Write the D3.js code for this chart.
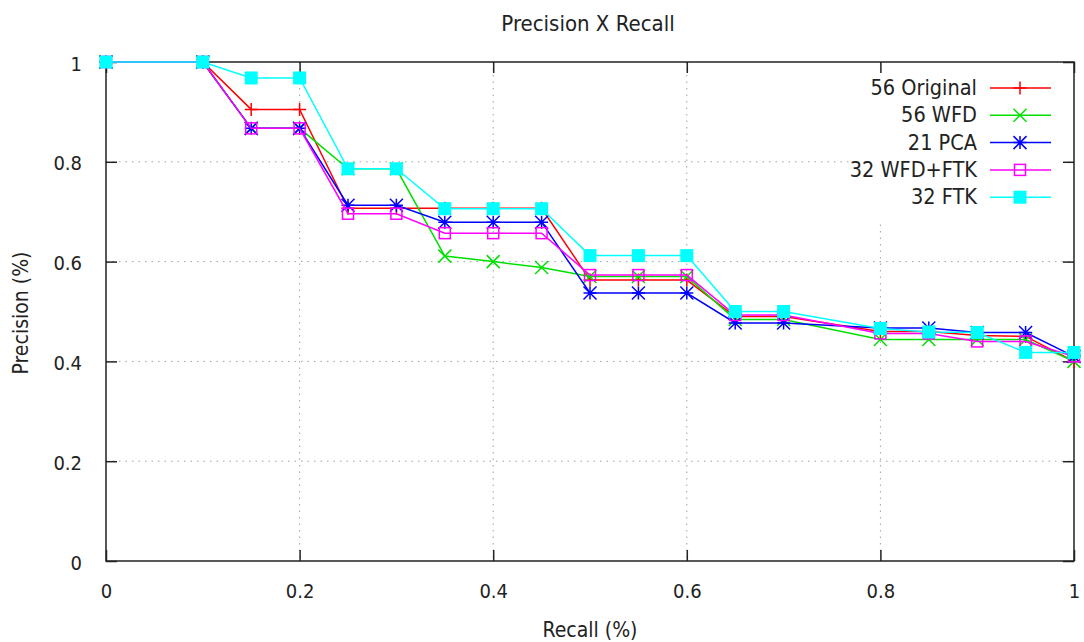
<!DOCTYPE html>
<html>
<head>
<meta charset="utf-8">
<script src="https://cdn.jsdelivr.net/npm/d3@7"></script>
<style>
  body { margin: 0; background: #fff; }
  svg text { font-family: "DejaVu Sans Condensed", "DejaVu Sans", sans-serif; font-stretch: condensed; fill: #222; }
</style>
</head>
<body>
<svg id="chart" width="1084" height="642"></svg>
<script>
// recall values shared by every series
const recall = [0, 0.1, 0.15, 0.2, 0.25, 0.3, 0.35, 0.4, 0.45, 0.5, 0.55, 0.6, 0.65, 0.7, 0.8, 0.85, 0.9, 0.95, 1];

const original = [1, 1, 0.905, 0.905, 0.707, 0.707, 0.707, 0.707, 0.707, 0.563, 0.563, 0.563, 0.49, 0.49, 0.46, 0.46, 0.452, 0.45, 0.40];
const wfd      = [1, 1, 0.867, 0.867, 0.786, 0.786, 0.611, 0.60, 0.588, 0.57, 0.57, 0.57, 0.484, 0.484, 0.444, 0.444, 0.444, 0.444, 0.40];
const pca      = [1, 1, 0.867, 0.867, 0.713, 0.713, 0.679, 0.679, 0.679, 0.537, 0.537, 0.537, 0.477, 0.477, 0.467, 0.467, 0.458, 0.458, 0.41];
const wfdFtk   = [1, 1, 0.867, 0.867, 0.696, 0.696, 0.657, 0.657, 0.657, 0.573, 0.573, 0.573, 0.493, 0.493, 0.456, 0.456, 0.44, 0.44, 0.41];
const ftk      = [1, 1, 0.968, 0.968, 0.786, 0.786, 0.706, 0.706, 0.706, 0.612, 0.612, 0.612, 0.50, 0.50, 0.466, 0.459, 0.458, 0.418, 0.418];

const seriesNames = ['56 Original', '56 WFD', '21 PCA', '32 WFD+FTK', '32 FTK'];
const seriesValues = [original, wfd, pca, wfdFtk, ftk];
const seriesColors = ['#ff0000', '#00e000', '#0000ff', '#ff00ff', '#00ffff'];
const seriesMarkers = ['plus', 'cross', 'star', 'square', 'fsquare'];

const xTicks = [0, 0.2, 0.4, 0.6, 0.8, 1];
const yTicks = [0, 0.2, 0.4, 0.6, 0.8, 1];

const margin = { top: 62, right: 10, bottom: 81, left: 106 };
const W = 1084, H = 642;
const width = W - margin.left - margin.right;
const height = H - margin.top - margin.bottom;

const svg = d3.select('#chart');
const g = svg.append('g').attr('transform', `translate(${margin.left},${margin.top})`);

const x = d3.scaleLinear().domain([0, 1]).range([0, width]);
const y = d3.scaleLinear().domain([0, 1]).range([height, 0]);

// grid (dotted)
const grid = g.append('g').attr('class', 'grid');
grid.selectAll('.gx').data(xTicks.slice(1, -1)).enter().append('line')
  .attr('x1', d => x(d)).attr('x2', d => x(d)).attr('y1', 0).attr('y2', height)
  .attr('stroke', '#a0a0a0').attr('stroke-width', 1).attr('stroke-dasharray', '1.5,5');
grid.selectAll('.gy').data(yTicks.slice(1, -1)).enter().append('line')
  .attr('x1', 0).attr('x2', width).attr('y1', d => y(d)).attr('y2', d => y(d))
  .attr('stroke', '#a0a0a0').attr('stroke-width', 1).attr('stroke-dasharray', '1.5,5');

// blank area behind the key, grid does not pass through it
g.append('rect').attr('x', width - 215).attr('y', 12).attr('width', 205).attr('height', 148).attr('fill', '#fff');

// axes: ticks pointing inward on all four sides
const tickLen = 11;
g.append('g').attr('transform', `translate(0,${height})`)
  .call(d3.axisBottom(x).tickValues(xTicks).tickSize(-tickLen).tickPadding(tickLen + 12).tickFormat(d3.format('~g')))
  .call(a => a.selectAll('text').style('font-size', '20px').attr('fill', '#222'));
g.append('g')
  .call(d3.axisLeft(y).tickValues(yTicks).tickSize(-tickLen).tickPadding(tickLen + 13).tickFormat(d3.format('~g')))
  .call(a => a.selectAll('text').style('font-size', '20px').attr('fill', '#222').attr('dy', '0.4em'));
g.append('g')
  .call(d3.axisTop(x).tickValues(xTicks).tickSize(-tickLen).tickFormat(''));
g.append('g').attr('transform', `translate(${width},0)`)
  .call(d3.axisRight(y).tickValues(yTicks).tickSize(-tickLen).tickFormat(''));
svg.selectAll('.domain').remove();
svg.selectAll('.tick line').attr('stroke', '#222').attr('stroke-width', 1.5);
g.append('rect').attr('width', width).attr('height', height)
  .attr('fill', 'none').attr('stroke', '#222').attr('stroke-width', 1.5);

function drawMarker(sel, type, color) {
  const s = 6.5;
  if (type === 'plus') {
    sel.append('path').attr('d', `M${-s},0H${s}M0,${-s}V${s}`).attr('stroke', color).attr('stroke-width', 1.5).attr('fill', 'none');
  } else if (type === 'cross') {
    sel.append('path').attr('d', `M${-s},${-s}L${s},${s}M${-s},${s}L${s},${-s}`).attr('stroke', color).attr('stroke-width', 1.5).attr('fill', 'none');
  } else if (type === 'star') {
    sel.append('path').attr('d', `M${-s},0H${s}M0,${-s}V${s}M${-s},${-s}L${s},${s}M${-s},${s}L${s},${-s}`).attr('stroke', color).attr('stroke-width', 1.5).attr('fill', 'none');
  } else if (type === 'square') {
    sel.append('rect').attr('x', -5.5).attr('y', -5.5).attr('width', 11).attr('height', 11).attr('stroke', color).attr('stroke-width', 1.5).attr('fill', 'none');
  } else if (type === 'fsquare') {
    sel.append('rect').attr('x', -6.5).attr('y', -6.5).attr('width', 13).attr('height', 13).attr('fill', color);
  }
}

const line = d3.line().x(d => x(d[0])).y(d => y(d[1]));

seriesValues.forEach((vals, i) => {
  const pts = recall.map((r, j) => [r, vals[j]]);
  g.append('path').datum(pts).attr('d', line)
    .attr('fill', 'none').attr('stroke', seriesColors[i]).attr('stroke-width', 1.5);
  pts.forEach(p => {
    const m = g.append('g').attr('transform', `translate(${x(p[0])},${y(p[1])})`);
    drawMarker(m, seriesMarkers[i], seriesColors[i]);
  });
});

// key
const key = g.append('g').attr('transform', `translate(${width - 84},26)`);
seriesNames.forEach((name, i) => {
  const row = key.append('g').attr('transform', `translate(0,${i * 27.3})`);
  row.append('text').attr('x', -13).attr('y', 7).attr('text-anchor', 'end').style('font-size', '21.5px').text(name);
  row.append('line').attr('x1', 0).attr('x2', 61).attr('stroke', seriesColors[i]).attr('stroke-width', 1.5);
  const m = row.append('g').attr('transform', 'translate(30,0)');
  drawMarker(m, seriesMarkers[i], seriesColors[i]);
});

// titles
svg.append('text').attr('x', 588).attr('y', 31).attr('text-anchor', 'middle').style('font-size', '22px').text('Precision X Recall');
svg.append('text').attr('x', 590).attr('y', 637).attr('text-anchor', 'middle').style('font-size', '21px').text('Recall (%)');
svg.append('text').attr('transform', 'translate(28,313) rotate(-90)').attr('text-anchor', 'middle').style('font-size', '21px').text('Precision (%)');
</script>
</body>
</html>
